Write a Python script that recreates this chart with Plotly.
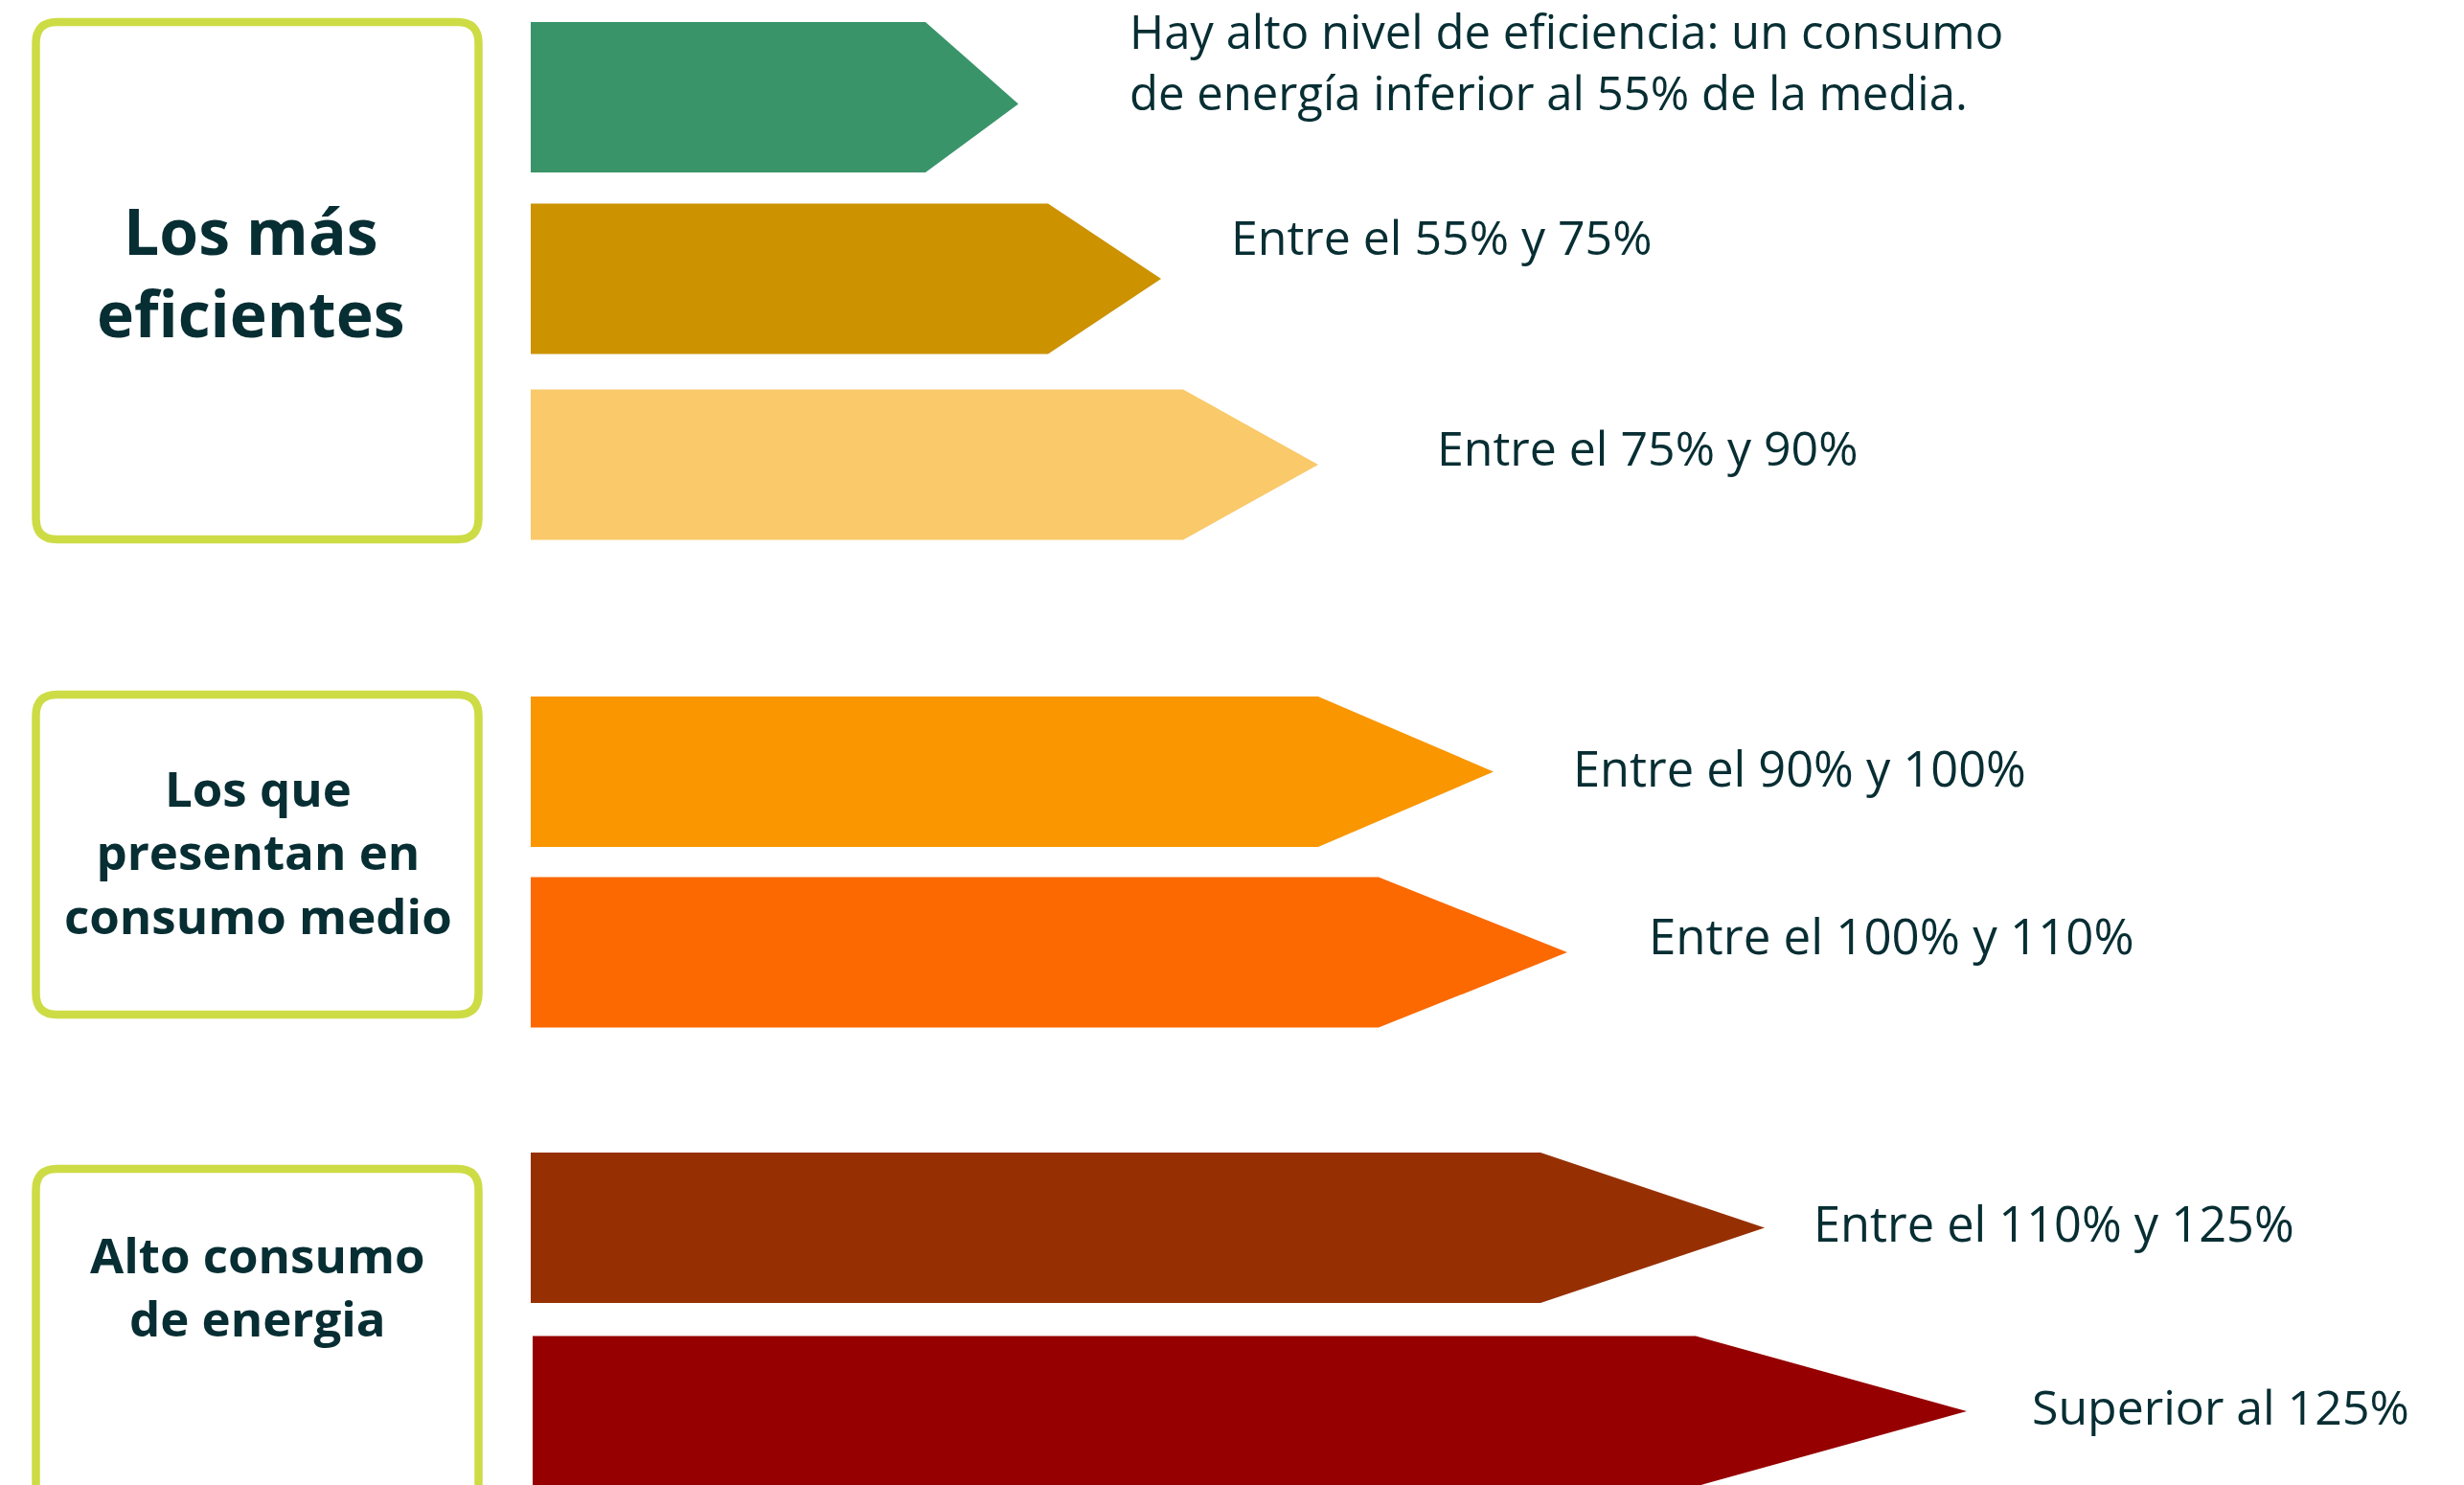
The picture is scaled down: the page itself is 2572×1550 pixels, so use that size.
import plotly.graph_objects as go

# ---- data ----
categories = ["<55%", "55-75%", "75-90%", "90-100%", "100-110%", "110-125%", ">125%"]
bar_length = [412, 540, 681, 822, 885, 1054, 1214]   # rectangular part length
tip_length = [97, 118, 141, 183, 197, 234, 283]      # arrow point length
labels = [
    "Hay alto nivel de eficiencia: un consumo<br>de energía inferior al 55% de la media.",
    "Entre el 55% y 75%",
    "Entre el 75% y 90%",
    "Entre el 90% y 100%",
    "Entre el 100% y 110%",
    "Entre el 110% y 125%",
    "Superior al 125%",
]
group_lines = [["Los más", "eficientes"],
               ["Los que", "presentan en", "consumo medio"],
               ["Alto consumo", "de energia"]]

# ---- layout / style ----
W, H = 2572, 1550
colors = ["#3A9469", "#CC9200", "#F9C96A", "#F99600", "#FB6900", "#963003", "#960000"]
bar_x0 = [554, 554, 554, 554, 554, 554, 556]
row_y = [101.5, 291, 485, 805.5, 994, 1281.5, 1473]
tip_dy = [7, 0, 0, 0, 0, 0, 0]
bar_h = 157
label_x = [1177, 1283, 1498, 1640, 1719, 1891, 2119]
label_y = [64, 247, 467, 801, 976, 1276, 1468]
label_size = [49, 50, 50, 50.5, 51, 50.5, 50]
text_color = "#072E33"
box_color = "#CDDC45"
boxes = [(37.5, 23, 499.5, 563), (37.5, 725, 499.5, 1059), (37.5, 1220, 499.5, 1600)]
box_text_x = [262, 269, 269]
box_text_y = [283, 888, 1342]
box_font = [66, 51, 51]
FONT = "Open Sans"

fig = go.Figure()
for i, cat in enumerate(categories):
    x0 = bar_x0[i]
    x1 = x0 + bar_length[i]
    xt = x1 + tip_length[i]
    yc = row_y[i]
    top, bot = yc - bar_h / 2, yc + bar_h / 2
    fig.add_trace(go.Scatter(
        x=[x0, x1, xt, x1, x0, x0],
        y=[top, top, yc + tip_dy[i], bot, bot, top],
        fill="toself", fillcolor=colors[i], mode="lines",
        line=dict(width=0, color=colors[i]), name=cat, hoverinfo="name",
        showlegend=False))
    fig.add_annotation(x=label_x[i], y=label_y[i], text=labels[i], showarrow=False,
                       xanchor="left", yanchor="middle", align="left",
                       font=dict(family=FONT, size=label_size[i], color=text_color))

def rounded(x0, y0, x1, y1, r):
    return (f"M {x0+r},{y0} L {x1-r},{y0} Q {x1},{y0} {x1},{y0+r} "
            f"L {x1},{y1-r} Q {x1},{y1} {x1-r},{y1} L {x0+r},{y1} "
            f"Q {x0},{y1} {x0},{y1-r} L {x0},{y0+r} Q {x0},{y0} {x0+r},{y0} Z")

for b, (x0, y0, x1, y1) in enumerate(boxes):
    fig.add_shape(type="path", path=rounded(x0, y0, x1, y1, 22), xref="x", yref="y",
                  line=dict(color=box_color, width=8.5), fillcolor="rgba(0,0,0,0)", layer="below")
    fig.add_annotation(x=box_text_x[b], y=box_text_y[b],
                       text="<br>".join(f"<b>{t}</b>" for t in group_lines[b]),
                       showarrow=False, xanchor="center", yanchor="middle", align="center",
                       font=dict(family=FONT, size=box_font[b], color=text_color))

fig.update_layout(
    width=W, height=H, margin=dict(l=0, r=0, t=0, b=0),
    paper_bgcolor="white", plot_bgcolor="white",
    xaxis=dict(range=[0, W], visible=False, fixedrange=True),
    yaxis=dict(range=[H, 0], visible=False, fixedrange=True),
    showlegend=False,
)
fig.write_html("out.html", config={"displayModeBar": False},
               post_script="document.body.style.margin='0';")
